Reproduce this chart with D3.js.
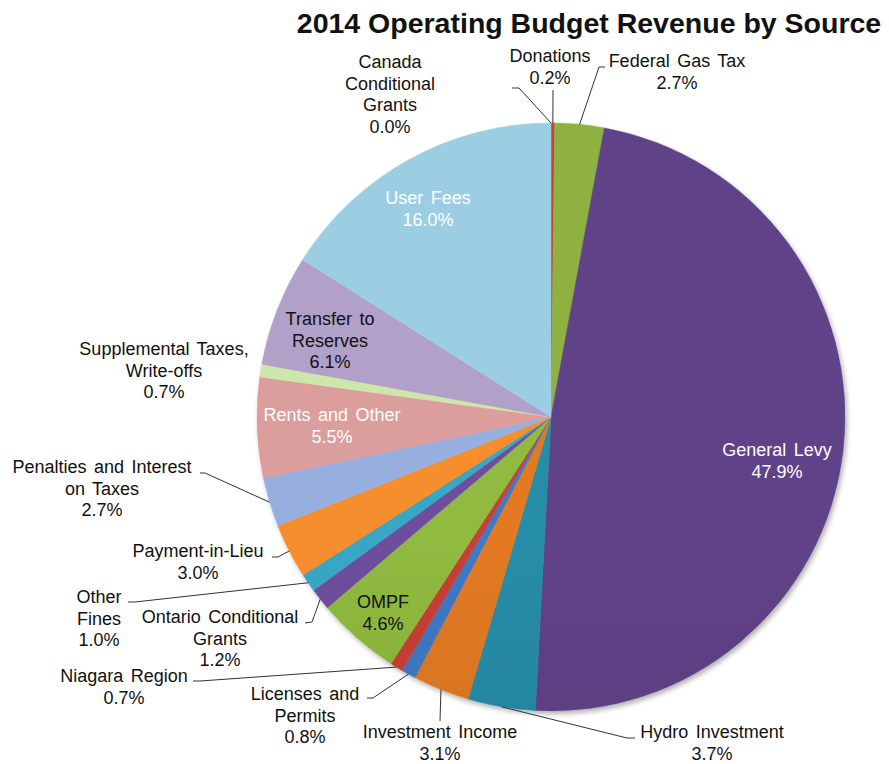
<!DOCTYPE html>
<html>
<head>
<meta charset="utf-8">
<script src="https://cdn.jsdelivr.net/npm/d3@7"></script>
<style>
  html, body { margin: 0; padding: 0; background: #ffffff; }
  svg { display: block; font-family: "Liberation Sans", Arial, sans-serif; }
</style>
</head>
<body>
<svg id="chart" width="889" height="764"></svg>
<script>
// Revenue sources, in the order the slices run clockwise from 12 o'clock
const categories = [
  "Canada Conditional Grants", "Donations", "Federal Gas Tax", "General Levy",
  "Hydro Investment", "Investment Income", "Licenses and Permits", "Niagara Region",
  "OMPF", "Ontario Conditional Grants", "Other Fines", "Payment-in-Lieu",
  "Penalties and Interest on Taxes", "Rents and Other", "Supplemental Taxes, Write-offs",
  "Transfer to Reserves", "User Fees"
];
// Share of total revenue, percent
const shares = [0.0, 0.2, 2.7, 47.9, 3.7, 3.1, 0.8, 0.7, 4.6, 1.2, 1.0, 3.0, 2.7, 5.5, 0.7, 6.1, 16.0];
// How each category name wraps in its label
const labelLines = [
  ["Canada", "Conditional", "Grants"], ["Donations"], ["Federal Gas Tax"], ["General Levy"],
  ["Hydro Investment"], ["Investment Income"], ["Licenses and", "Permits"], ["Niagara Region"],
  ["OMPF"], ["Ontario Conditional", "Grants"], ["Other", "Fines"], ["Payment-in-Lieu"],
  ["Penalties and Interest", "on Taxes"], ["Rents and Other"], ["Supplemental Taxes,", "Write-offs"],
  ["Transfer to", "Reserves"], ["User Fees"]
];
const title = "2014 Operating Budget Revenue by Source";

// Slice colours (mid tone; each slice gets a light-to-dark vertical gradient)
const colors = [
  "#4f81bd", "#b83a30", "#82a23a", "#583d7c", "#23819b", "#d0701f", "#3a6fb5", "#b83a30",
  "#84aa3a", "#65478f", "#3499b4", "#e2822a", "#8aa0cc", "#c99090", "#bcd29c", "#a293b8", "#8fbcd0"
];

// Label placement: centre x, centre y of first line, text colour, leader-line points near the text
const labelLayout = [
  { x: 390, y: 62, fill: "#111", leader: [[512, 88], [519, 88]] },
  { x: 550, y: 56, fill: "#111", leader: [[553, 90]] },
  { x: 677, y: 61, fill: "#111", leader: [[605, 67], [599, 67]] },
  { x: 777, y: 450, fill: "#ffffff", leader: null },
  { x: 712, y: 732, fill: "#111", leader: [[635, 738], [627, 738]] },
  { x: 440, y: 732, fill: "#111", leader: [[440, 721]] },
  { x: 305, y: 694, fill: "#111", leader: [[367, 698], [373, 698]] },
  { x: 124, y: 676, fill: "#111", leader: [[193, 681], [200, 681]] },
  { x: 383, y: 602, fill: "#111", leader: null },
  { x: 220, y: 617, fill: "#111", leader: [[305, 623], [312, 622]] },
  { x: 99, y: 597, fill: "#111", leader: [[128, 602], [135, 602]] },
  { x: 198, y: 551, fill: "#111", leader: [[272, 557], [278, 557]] },
  { x: 102, y: 467, fill: "#111", leader: [[200, 473], [205, 473]] },
  { x: 332, y: 415, fill: "#ffffff", leader: null },
  { x: 164, y: 349, fill: "#111", leader: null },
  { x: 330, y: 319, fill: "#111", leader: null },
  { x: 428, y: 198, fill: "#ffffff", leader: null }
];

const cx = 551, cy = 417, radius = 294;
const lineHeight = 21.5;

const svg = d3.select("#chart");
const defs = svg.append("defs");

// Soft shadow under the pie
const shadow = defs.append("filter").attr("id", "pieShadow")
  .attr("x", "-10%").attr("y", "-10%").attr("width", "120%").attr("height", "120%");
shadow.append("feDropShadow").attr("dx", 2).attr("dy", 3)
  .attr("stdDeviation", 2.5).attr("flood-color", "#000").attr("flood-opacity", 0.3);

// Per-slice vertical gradients
colors.forEach((c, i) => {
  const base = d3.color(c);
  const g = defs.append("linearGradient").attr("id", "grad" + i)
    .attr("gradientUnits", "userSpaceOnUse")
    .attr("x1", 0).attr("x2", 0).attr("y1", cy - radius).attr("y2", cy + radius);
  g.append("stop").attr("offset", "0%").attr("stop-color", base.brighter(0.25).formatHex());
  g.append("stop").attr("offset", "50%").attr("stop-color", base.formatHex());
  g.append("stop").attr("offset", "100%").attr("stop-color", base.darker(0.35).formatHex());
});

// Title
svg.append("text")
  .attr("x", 589).attr("y", 33)
  .attr("text-anchor", "middle")
  .attr("font-size", 28.5).attr("font-weight", "bold").attr("fill", "#111")
  .text(title);

const records = categories.map((name, i) => ({ name, value: shares[i], index: i }));

const pie = d3.pie().sort(null).value(d => d.value);
const arcs = pie(records);
const arc = d3.arc().innerRadius(0).outerRadius(radius);

const pieGroup = svg.append("g")
  .attr("transform", `translate(${cx},${cy})`)
  .attr("filter", "url(#pieShadow)");

pieGroup.selectAll("path")
  .data(arcs)
  .join("path")
  .attr("d", arc)
  .attr("fill", d => `url(#grad${d.data.index})`)
  .attr("stroke", d => `url(#grad${d.data.index})`)
  .attr("stroke-width", 0.5);

// Leader lines: from the slice's outer edge at its mid-angle to the label
const leaderGroup = svg.append("g")
  .attr("fill", "none").attr("stroke", "#333").attr("stroke-width", 1);

arcs.forEach(d => {
  const lay = labelLayout[d.data.index];
  if (!lay.leader) return;
  const mid = (d.startAngle + d.endAngle) / 2;
  const edge = [cx + radius * Math.sin(mid), cy - radius * Math.cos(mid)];
  const pts = lay.leader.concat([edge]);
  leaderGroup.append("path").attr("d", d3.line()(pts));
});

// Labels: category name lines followed by the percentage
const labelGroup = svg.append("g")
  .attr("font-size", 18)
  .attr("word-spacing", 2.5)
  .attr("text-anchor", "middle")
  .attr("dominant-baseline", "central");

records.forEach((r, i) => {
  const lay = labelLayout[i];
  const lines = labelLines[i].concat([d3.format(".1f")(r.value) + "%"]);
  const t = labelGroup.append("text").attr("fill", lay.fill);
  lines.forEach((ln, k) => {
    t.append("tspan")
      .attr("x", lay.x)
      .attr("y", lay.y + k * lineHeight)
      .text(ln);
  });
});
</script>
</body>
</html>
